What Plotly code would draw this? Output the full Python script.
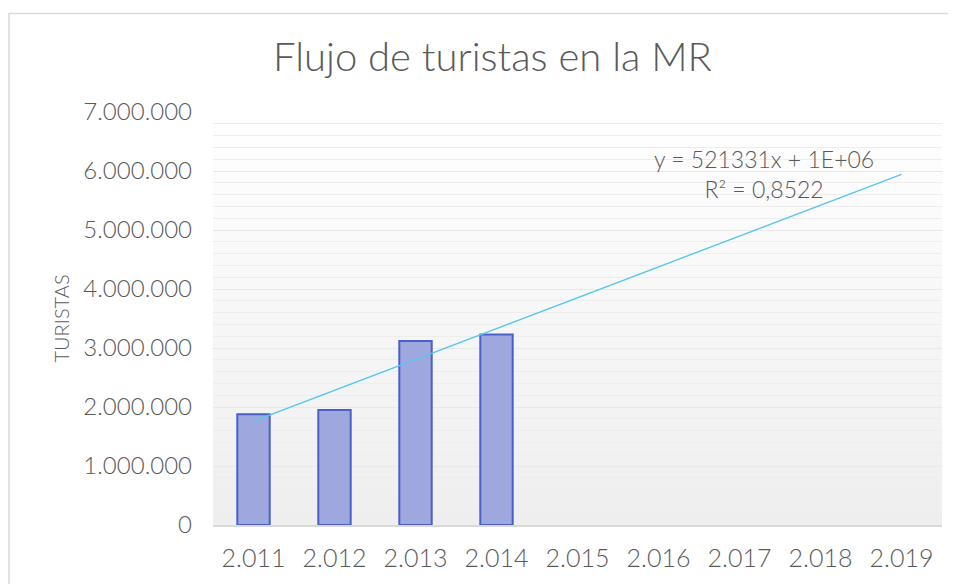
import base64
import numpy as np
import plotly.graph_objects as go

# datos
anios = ["2.011", "2.012", "2.013", "2.014", "2.015", "2.016", "2.017", "2.018", "2.019"]
turistas = [1877000, 1950000, 3120000, 3230000]
y_ticks = [0, 1000000, 2000000, 3000000, 4000000, 5000000, 6000000, 7000000]

FONT = "Lato, 'Open Sans', sans-serif"
GRIS = "#595959"

idx = list(range(len(anios)))
idx_datos = idx[:len(turistas)]

# tendencia lineal (como Excel: x = 1..n)
pend, orden = np.polyfit(np.arange(1, len(turistas) + 1), turistas, 1)
x_tend = np.arange(1, len(anios) + 1)
y_tend = pend * x_tend + orden

# degradado para el fondo del area de trazado
svg = ('<svg xmlns="http://www.w3.org/2000/svg" width="100" height="100" '
       'viewBox="0 0 100 100" preserveAspectRatio="none">'
       '<defs><linearGradient id="g" x1="0" y1="0" x2="0" y2="1">'
       '<stop offset="0" stop-color="#ffffff"/><stop offset="1" stop-color="#eeeeee"/>'
       '</linearGradient></defs><rect width="100" height="100" fill="url(#g)"/></svg>')
fondo = "data:image/svg+xml;base64," + base64.b64encode(svg.encode()).decode()

fig = go.Figure()

fig.add_trace(go.Bar(
    x=idx_datos, y=turistas, width=0.4,
    marker=dict(color="#9ea7de", line=dict(color="#4a60c8", width=2)),
    showlegend=False,
))

fig.add_trace(go.Scatter(
    x=[i - 1 for i in x_tend], y=y_tend, mode="lines",
    line=dict(color="#5bc5ef", width=1.4), showlegend=False,
))

fig.add_annotation(
    x=6.3, y=5430000, xref="x", yref="y",
    text="y = 521331x + 1E+06<br>R² = 0,8522",
    showarrow=False, font=dict(family=FONT, size=23, color=GRIS, weight=300),
    align="center", yanchor="bottom",
)

fig.add_layout_image(
    source=fondo, xref="paper", yref="paper", x=0, y=1, sizex=1, sizey=1,
    xanchor="left", yanchor="top", sizing="stretch", layer="below",
)

# borde del grafico
fig.add_shape(type="rect", xref="paper", yref="paper",
              x0=(1 - 205) / 729, x1=(941 - 205) / 729, y0=-0.3, y1=1 + 99 / 415,
              line=dict(color="#d9d9d9", width=1.5), fillcolor="rgba(0,0,0,0)")

fig.update_layout(
    width=948, height=576,
    margin=dict(l=205, r=14, t=104, b=57),
    paper_bgcolor="white", plot_bgcolor="rgba(0,0,0,0)",
    separators=",.",
    title=dict(text="Flujo de turistas en la MR", x=0.511, xanchor="center",
               y=0.915, yanchor="middle",
               font=dict(family=FONT, size=40, color=GRIS, weight=300)),
    font=dict(family=FONT, color=GRIS, weight=300),
)
fig.update_xaxes(
    range=[-0.5, len(anios) - 0.5], tickvals=idx, ticktext=anios,
    showgrid=False, zeroline=False, showline=True, linecolor="#d9d9d9",
    linewidth=1.5, ticks="", ticklabelstandoff=10,
    tickfont=dict(size=25, color=GRIS, weight=300),
)
fig.update_yaxes(
    range=[0, y_ticks[-1]], tickvals=y_ticks, tickformat=",d",
    showgrid=True, gridcolor="#e8e8e8", gridwidth=1,
    minor=dict(dtick=200000, showgrid=True, gridcolor="#ededed", gridwidth=1),
    zeroline=False, ticklabelstandoff=20,
    tickfont=dict(size=24, color=GRIS, weight=300),
    title=dict(text="TURISTAS", font=dict(size=20, color=GRIS, weight=300), standoff=8),
)

fig.write_html("out.html")
